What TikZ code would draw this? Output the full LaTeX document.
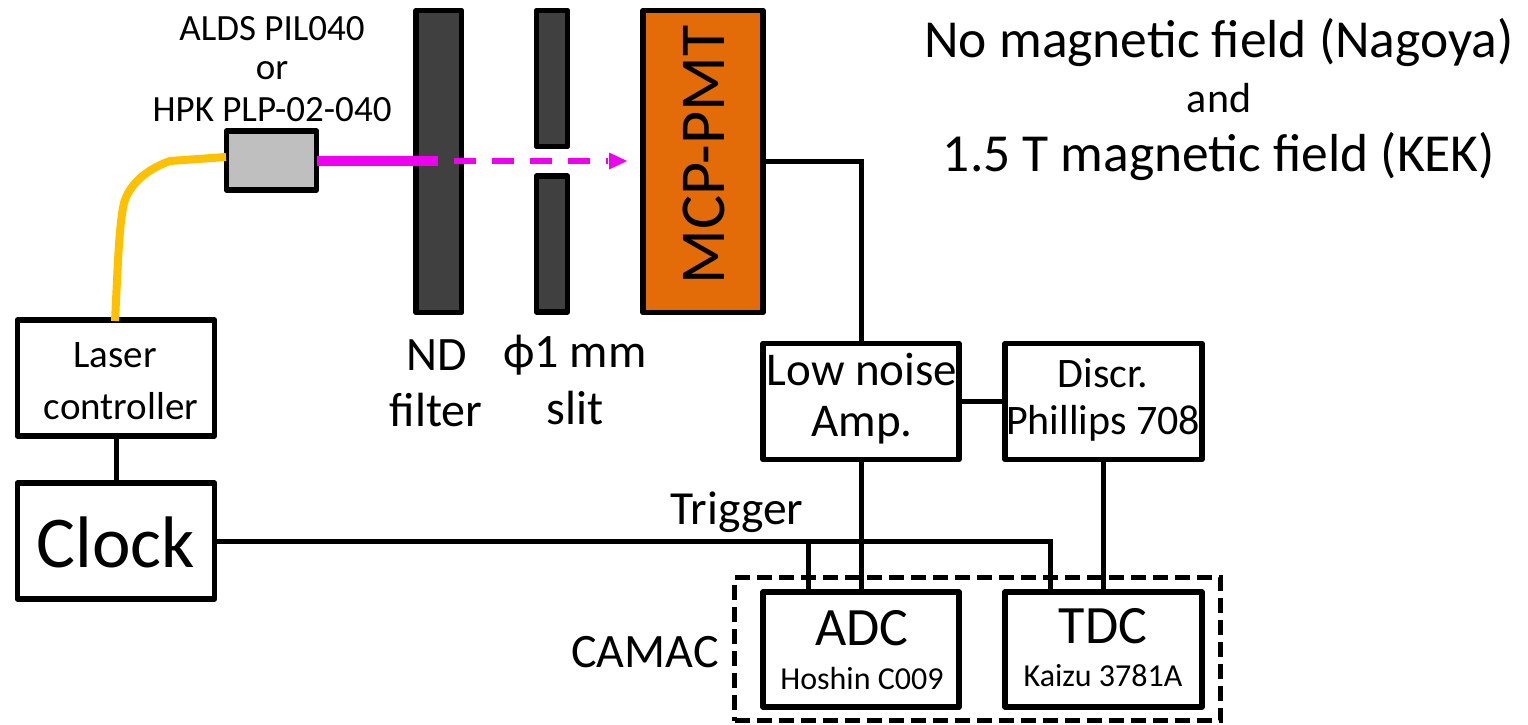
\documentclass[tikz,border=0pt]{standalone}
\usepackage{fontspec}
\setmainfont{Carlito}
\usetikzlibrary{arrows.meta}
\newcommand{\fs}[1]{\fontsize{#1}{#1}\selectfont}
\definecolor{darkbar}{HTML}{404040}
\definecolor{pmt}{HTML}{E36C09}
\definecolor{lasergrey}{HTML}{BFBFBF}
\definecolor{fibre}{HTML}{FFC000}
\definecolor{beam}{HTML}{F000F0}
\tikzset{
 x=1pt,y=-1pt,
 blk/.style={draw=black,line width=5.5pt,line join=round,rectangle,inner sep=0pt,outer sep=0pt,anchor=north west,align=center},
 bar/.style={blk,fill=darkbar},
 wire/.style={draw=black,line width=5pt},
 lbl/.style={inner sep=0pt,outer sep=0pt,align=center,text=black},
 dashbox/.style={draw=black,line width=5pt,dash pattern=on 15pt off 7pt,rectangle,inner sep=0pt,outer sep=0pt,anchor=north west},
}
\begin{document}
\begin{tikzpicture}
\useasboundingbox (0,0) rectangle (1528,724);
% optical parts
\node[bar,minimum width=45.5pt,minimum height=302pt] (nd) at (416,10.5) {};
\node[bar,minimum width=31pt,minimum height=136pt] (slita) at (536.5,10.5) {};
\node[bar,minimum width=31pt,minimum height=136pt] (slitb) at (536.5,176) {};
\node[blk,fill=pmt,minimum width=120pt,minimum height=302pt] (mcp) at (643,10.5) {};
\node[lbl,rotate=90,font=\fs{64}] at (704,155) {MCP-PMT};
\node[blk,fill=lasergrey,minimum width=90pt,minimum height=59pt] (src) at (226.5,131) {};
% electronics
\node[blk,minimum width=197pt,minimum height=116pt] (ctrl) at (17.5,320) {};
\node[lbl,font=\fs{39}] (ctrl1) at (115,355) {Laser};
\node[lbl,font=\fs{39}] (ctrl2) at (121,406) {controller};
\node[blk,minimum width=197pt,minimum height=116pt] (clock) at (17.5,483) {};
\node[lbl,font=\fs{73}] at (116,542) {Clock};
\node[blk,minimum width=196pt,minimum height=116pt] (amp) at (763,343.5) {};
\node[lbl,font=\fs{47}] at (862,369) {Low noise};
\node[lbl,font=\fs{47}] at (862,425) {Amp.};
\node[blk,minimum width=197pt,minimum height=116pt] (disc) at (1005,343.5) {};
\node[lbl,font=\fs{42}] at (1103,373) {Discr.};
\node[lbl,font=\fs{42}] at (1103,423) {Phillips 708};
\node[blk,minimum width=196pt,minimum height=115pt] (adc) at (763,592) {};
\node[lbl,font=\fs{54}] at (862,628) {ADC};
\node[lbl,font=\fs{32}] at (862,678) {Hoshin C009};
\node[blk,minimum width=197pt,minimum height=115pt] (tdc) at (1005,592) {};
\node[lbl,font=\fs{54}] at (1103,626) {TDC};
\node[lbl,font=\fs{32}] at (1103,676) {Kaizu 3781A};
\node[dashbox,minimum width=486pt,minimum height=143pt] (camac) at (734.5,577.5) {};
% coordinates
\coordinate (fa) at (115,321);
\coordinate (fb) at (226,157);
\coordinate (bs) at (317,161);
\coordinate (be) at (438,161);
\coordinate (ds) at (454,161);
\coordinate (de) at (627,161);
% fibre
\draw[draw=fibre,line width=8pt] (fa) .. controls (118,262) and (119,225) .. (124,203) .. controls (130,182) and (150,168) .. (170,161) -- (fb);
% beam
\draw[draw=beam,line width=10pt] (bs) -- (be);
\draw[draw=beam,line width=6pt,dash pattern=on 22pt off 16pt] (ds) -- (608,161);
\fill[beam] (609,152.5) -- (de) -- (609,169.5) -- cycle;
% wires
\draw[wire] (765,161) -| (amp.north);
\draw[wire] (amp.east) -- (disc.west);
\draw[wire] (amp.south) -- (adc.north);
\draw[wire] (disc.south) -- (tdc.north);
\draw[wire] (ctrl.south) -- (clock.north);
\draw[wire] (clock.east |- 541,541) -- (1050.5,541) -- (1050.5,592);
\draw[wire] (808.5,541) -- (808.5,592);
% labels
\node[lbl,font=\fs{37}] at (272,29) {ALDS PIL040};
\node[lbl,font=\fs{37}] at (272,71) {or};
\node[lbl,font=\fs{37}] at (272,110) {HPK PLP-02-040};
\node[lbl,font=\fs{48}] at (437,355) {ND};
\node[lbl,font=\fs{48}] at (436,410) {filter};
\node[lbl,font=\fs{48}] at (575,355) {ϕ1 mm};
\node[lbl,font=\fs{48}] at (575,408) {slit};
\node[lbl,font=\fs{47.5}] at (737,512) {Trigger};
\node[lbl,font=\fs{48}] at (645,652) {CAMAC};
\node[lbl,font=\fs{53.5}] at (1219,43) {No magnetic field (Nagoya)};
\node[lbl,font=\fs{42}] at (1219,98) {and};
\node[lbl,font=\fs{53.5}] at (1219,157) {1.5 T magnetic field (KEK)};
\end{tikzpicture}
\end{document}
